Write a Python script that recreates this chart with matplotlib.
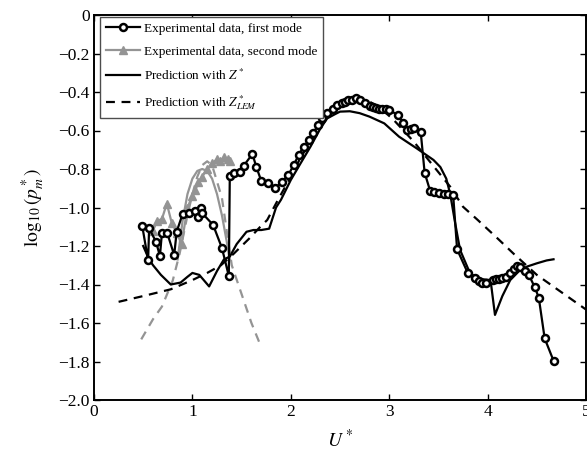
import matplotlib
matplotlib.use("Agg")
import matplotlib.pyplot as plt

plt.rcParams['font.family'] = ['Liberation Serif', 'DejaVu Serif']
plt.rcParams['mathtext.fontset'] = 'stix'

# First mode experimental data
x_mode1 = [0.49,0.55,0.56,0.63,0.67,0.69,0.745,0.815,0.84,0.90,0.97,1.03,1.06,1.09,1.10,1.21,1.30,1.37,
           1.38,1.42,1.48,1.52,1.61,1.65,1.70,1.77,1.84,1.91,1.975,2.03,2.08,2.13,2.19,2.23,2.28,2.32,2.365,
           2.43,2.47,2.52,2.55,2.585,2.62,2.66,2.70,2.75,2.80,2.84,2.87,2.90,2.93,2.97,3.00,3.09,3.14,3.18,
           3.22,3.25,3.32,3.36,3.415,3.46,3.51,3.56,3.60,3.65,3.69,3.80,3.87,3.91,3.94,3.98,4.05,4.09,4.12,
           4.15,4.19,4.23,4.27,4.30,4.33,4.38,4.42,4.48,4.52,4.58,4.67]
y_mode1 = [-1.095,-1.275,-1.108,-1.178,-1.252,-1.134,-1.134,-1.247,-1.126,-1.034,-1.03,-1.02,-1.05,-1.0,-1.03,
           -1.09,-1.21,-1.356,-0.836,-0.82,-0.814,-0.784,-0.722,-0.79,-0.862,-0.872,-0.9,-0.866,-0.831,-0.779,
           -0.727,-0.684,-0.649,-0.611,-0.571,-0.537,-0.511,-0.49,-0.47,-0.455,-0.45,-0.442,-0.44,-0.433,-0.44,
           -0.455,-0.473,-0.48,-0.485,-0.486,-0.49,-0.49,-0.495,-0.519,-0.559,-0.597,-0.59,-0.589,-0.606,-0.819,
           -0.912,-0.92,-0.926,-0.93,-0.93,-0.935,-1.217,-1.342,-1.368,-1.38,-1.394,-1.39,-1.375,-1.373,-1.37,
           -1.365,-1.359,-1.34,-1.32,-1.304,-1.31,-1.33,-1.351,-1.415,-1.468,-1.68,-1.796]

# Second mode experimental data
x_mode2 = [0.60,0.64,0.69,0.74,0.79,0.84,0.89,0.95,1.00,1.03,1.06,1.10,1.15,1.20,1.25,1.28,1.32,1.36,1.38]
y_mode2 = [-1.12,-1.07,-1.06,-0.98,-1.08,-1.13,-1.19,-1.0,-0.94,-0.91,-0.87,-0.84,-0.80,-0.77,-0.75,-0.76,
           -0.74,-0.75,-0.76]

# Prediction with Z* (first mode)
x_pred1 = [0.50,0.56,0.60,0.68,0.78,0.88,0.95,1.00,1.07,1.12,1.17,1.25,1.32,1.38,1.45,1.55,1.62,1.70,1.78,
           1.85,1.90,2.00,2.10,2.20,2.30,2.37,2.45,2.50,2.60,2.70,2.80,2.95,3.10,3.28,3.45,3.52,3.58,3.62,
           3.67,3.72,3.82,3.90,4.03,4.075,4.15,4.23,4.32,4.40,4.50,4.60,4.67]
y_pred1 = [-1.20,-1.27,-1.30,-1.35,-1.40,-1.39,-1.36,-1.34,-1.35,-1.38,-1.41,-1.33,-1.27,-1.255,-1.19,
           -1.126,-1.117,-1.117,-1.11,-1.00,-0.96,-0.857,-0.77,-0.684,-0.59,-0.537,-0.515,-0.502,-0.50,
           -0.51,-0.528,-0.563,-0.632,-0.693,-0.753,-0.79,-0.85,-0.93,-1.08,-1.22,-1.34,-1.37,-1.377,
           -1.558,-1.46,-1.377,-1.33,-1.307,-1.29,-1.275,-1.269]

# Prediction with Z*_LEM (first mode)
x_lem1 = [0.25,0.50,0.78,1.00,1.15,1.29,1.42,1.58,1.69,1.76,1.87,2.00,2.10,2.20,2.30,2.40,2.50,2.60,2.70,
          2.80,2.90,3.04,3.25,3.45,3.62,3.75,3.90,4.10,4.26,4.50,4.75,5.00]
y_lem1 = [-1.49,-1.46,-1.425,-1.377,-1.34,-1.30,-1.24,-1.16,-1.10,-1.065,-0.96,-0.84,-0.74,-0.66,-0.58,
          -0.52,-0.47,-0.445,-0.44,-0.45,-0.48,-0.542,-0.658,-0.785,-0.892,-0.996,-1.065,-1.16,-1.238,
          -1.35,-1.44,-1.53]

# Prediction with Z* (second mode)
x_pred2 = [0.85,0.90,0.95,1.00,1.05,1.10,1.15,1.20,1.25,1.30,1.35,1.38]
y_pred2 = [-1.27,-1.07,-0.93,-0.85,-0.81,-0.80,-0.81,-0.85,-0.93,-1.04,-1.18,-1.27]

# Prediction with Z*_LEM (second mode)
x_lem2 = [0.48,0.60,0.69,0.80,0.87,0.95,1.00,1.05,1.10,1.15,1.20,1.30,1.40,1.52,1.60,1.70]
y_lem2 = [-1.685,-1.58,-1.515,-1.38,-1.24,-1.04,-0.93,-0.84,-0.78,-0.76,-0.78,-0.95,-1.30,-1.48,-1.60,-1.726]

fig = plt.figure(figsize=(5.87, 4.58), dpi=100)
ax = fig.add_axes([94/587, 1-400/458, 492/587, 385/458])

gray = '0.58'
ax.plot(x_lem2, y_lem2, color=gray, ls=(0, (4, 3)), lw=1.6)
ax.plot(x_pred2, y_pred2, color=gray, ls='-', lw=1.6)
ax.plot(x_mode2, y_mode2, color=gray, lw=1.6, marker='^', ms=6, mfc=gray, mec=gray,
        label='Experimental data, second mode')
ax.plot(x_lem1, y_lem1, color='black', ls=(0, (4, 3)), lw=1.6, label='Prediction with $Z^*_{LEM}$')
ax.plot(x_pred1, y_pred1, color='black', ls='-', lw=1.6, label='Prediction with $Z^*$')
ax.plot(x_mode1, y_mode1, color='black', lw=1.6, marker='o', ms=5, mfc='white', mec='black', mew=1.8,
        label='Experimental data, first mode')

ax.set_xlim(0, 5)
ax.set_ylim(-2.0, 0)
ax.set_xticks([0, 1, 2, 3, 4, 5])
ax.set_yticks([0, -0.2, -0.4, -0.6, -0.8, -1.0, -1.2, -1.4, -1.6, -1.8, -2.0])
ax.set_yticklabels(['0', '\u22120.2', '\u22120.4', '\u22120.6', '\u22120.8', '\u22121.0',
                    '\u22121.2', '\u22121.4', '\u22121.6', '\u22121.8', '\u22122.0'])
ax.tick_params(direction='in', top=True, right=True, length=4, width=1, labelsize=12.5, pad=3)
for s in ax.spines.values():
    s.set_linewidth(1.4)

ax.set_xlabel('$U^*$', fontsize=14, labelpad=6)
ax.set_ylabel(r'$\mathrm{log}_{10}\,(p^*_m)$', fontsize=14, labelpad=8)

h, l = ax.get_legend_handles_labels()
order = [3, 0, 2, 1]
leg = ax.legend([h[i] for i in order], [l[i] for i in order], loc='upper left',
                bbox_to_anchor=(0.012, 0.995), borderaxespad=0, fontsize=9.5, numpoints=1,
                fancybox=False, framealpha=1, edgecolor='0.3', handlelength=2.6,
                handletextpad=0.3, labelspacing=0.78, borderpad=0.45)
leg.get_frame().set_linewidth(1.0)

fig.savefig('out.png', dpi=100)
